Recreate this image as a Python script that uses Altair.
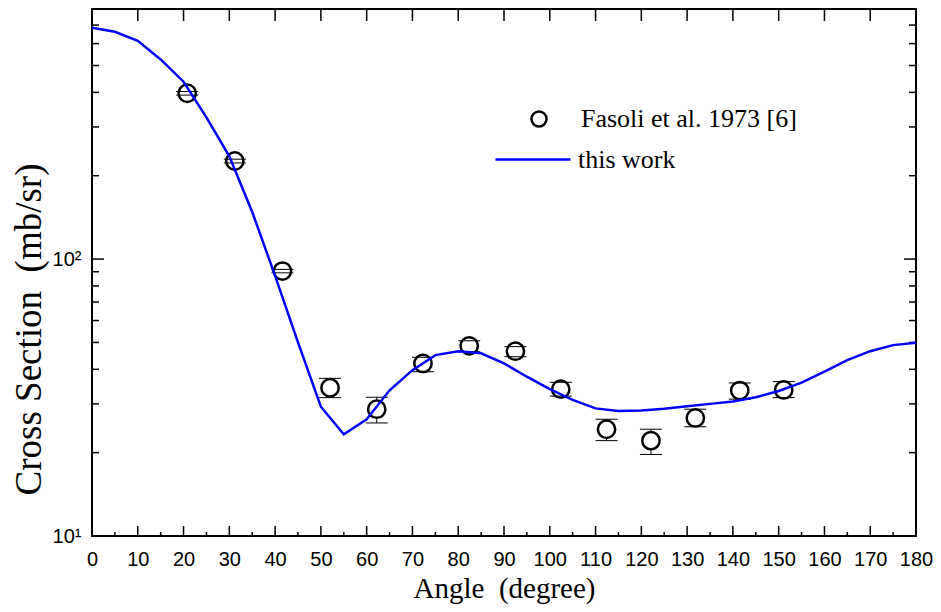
import altair as alt
import pandas as pd

# ---- data ----
exp_angle = [20.8, 31.2, 41.6, 52.0, 62.2, 72.3, 82.4, 92.5, 102.4, 112.4, 122.1, 131.8, 141.5, 151.1]
exp_cs = [397, 226, 90.5, 34.3, 28.7, 42.0, 48.6, 46.5, 33.9, 24.3, 22.1, 26.7, 33.5, 33.7]
exp_lo = [391, 222.5, 89.2, 31.6, 25.6, 39.2, 46.3, 44.4, 32.0, 22.1, 19.7, 24.8, 31.2, 31.6]
exp_hi = [403, 229.5, 91.8, 37.1, 31.7, 44.2, 50.7, 48.3, 35.9, 26.4, 24.3, 28.7, 35.7, 36.1]

calc_angle = [0, 5, 10, 15, 20, 25, 30, 35, 40, 45, 50, 55, 60, 65, 70, 75, 80, 85, 90,
              95, 100, 105, 110, 115, 120, 125, 130, 135, 140, 145, 150, 155, 160, 165,
              170, 175, 180]
calc_cs = [684, 662, 614, 526, 437, 325, 235, 148, 87, 50, 29.3, 23.3, 26.4, 33.6, 39.7,
           45.0, 46.5, 45.7, 42.0, 37.6, 33.9, 31.0, 28.9, 28.3, 28.4, 28.8, 29.4, 30.0,
           30.6, 31.7, 33.4, 35.8, 39.2, 43.2, 46.5, 48.9, 49.9]

x_major = [0, 10, 20, 30, 40, 50, 60, 70, 80, 90, 100, 110, 120, 130, 140, 150, 160, 170, 180]
x_minor = [5, 15, 25, 35, 45, 55, 65, 75, 85, 95, 105, 115, 125, 135, 145, 155, 165, 175]
x_top = [10, 20, 30, 40, 50, 60, 70, 80, 90, 100, 110, 120, 130, 140, 150, 160, 170]
y_major = [100]
y_minor = [20, 30, 40, 50, 60, 70, 80, 90, 200, 300, 400, 500, 600, 700]
y_labels = [10, 100]

exp_label = "Fasoli et al. 1973 [6]"
calc_label = "this work"
x_title = "Angle\u00a0\u00a0(degree)"
y_title = "Cross Section\u00a0\u00a0(mb/sr)"

W, H = 824, 527

exp_df = pd.DataFrame({"angle": exp_angle, "cs": exp_cs, "lo": exp_lo, "hi": exp_hi,
                       "lab": [exp_label] * len(exp_angle)})
calc_df = pd.DataFrame({"angle": calc_angle, "cs": calc_cs, "lab": [calc_label] * len(calc_angle)})

xscale = alt.Scale(domain=[0, 180], nice=False, zero=False)
yscale = alt.Scale(type="log", domain=[10, 800], nice=False)

xaxis = alt.Axis(values=x_major, labelFont="Liberation Sans", labelFontSize=20, labelColor="black",
                 labelPadding=13, labelFlush=False, labelOverlap=False, ticks=False, domain=False,
                 grid=False, title=x_title, titleFont="Liberation Serif", titleFontSize=29,
                 titleFontWeight="normal", titleColor="black", titleY=61, titleBaseline="alphabetic")
yaxis = alt.Axis(values=y_labels, labelExpr="datum.value == 100 ? '10²' : '10¹'",
                 labelFont="Liberation Sans", labelFontSize=20, labelColor="black", labelPadding=11,
                 labelOverlap=False, ticks=False, domain=False, grid=False,
                 title=y_title, titleFont="Liberation Serif", titleFontSize=37,
                 titleFontWeight="normal", titleColor="black", titleX=-52, titleY=320,
                 titleAngle=270, titleBaseline="alphabetic")


def X(f):
    return alt.X(f, type="quantitative", scale=xscale, axis=xaxis)


def Y(f):
    return alt.Y(f, type="quantitative", scale=yscale, axis=yaxis)


def xticks(vals, y0, y1):
    return alt.Chart(pd.DataFrame({"t": vals})).mark_rule(color="black", strokeWidth=1.5).encode(
        x=X("t"), y=alt.value(y0), y2=alt.value(y1))


def yticks(vals, x0, x1):
    return alt.Chart(pd.DataFrame({"v": vals})).mark_rule(color="black", strokeWidth=1.5).encode(
        y=Y("v"), x=alt.value(x0), x2=alt.value(x1))


ticks = [
    xticks(x_major, H, H - 10),
    xticks(x_minor, H, H - 4),
    xticks(x_top, 0, 12),
    yticks(y_major, 0, 12),
    yticks(y_minor, 0, 7),
    yticks(y_major, W, W - 12),
    yticks(y_minor, W, W - 7),
]

err = alt.Chart(exp_df).mark_rule(color="black", strokeWidth=1).encode(
    x=X("angle"), y=Y("lo"), y2="hi")
caps_lo = alt.Chart(exp_df).mark_tick(orient="horizontal", color="black", thickness=1, size=22,
                                      opacity=1).encode(x=X("angle"), y=Y("lo"))
caps_hi = alt.Chart(exp_df).mark_tick(orient="horizontal", color="black", thickness=1, size=22,
                                      opacity=1).encode(x=X("angle"), y=Y("hi"))

points = alt.Chart(exp_df).mark_point(shape="circle", filled=False, fill="white", strokeWidth=2.5,
                                      size=300, opacity=1, fillOpacity=1).encode(
    x=X("angle"), y=Y("cs"),
    color=alt.Color("lab:N", scale=alt.Scale(range=["black"]),
                    legend=alt.Legend(orient="none", legendX=434, legendY=97, title=None,
                                      padding=0, labelFont="Liberation Serif", labelFontSize=26,
                                      labelColor="black", labelOffset=29, labelLimit=400,
                                      symbolType="circle", symbolSize=225, symbolStrokeWidth=2.5,
                                      symbolStrokeColor="black", symbolFillColor="white",
                                      symbolOpacity=1)))

line = alt.Chart(calc_df).mark_line(strokeWidth=2.5).encode(
    x=X("angle"), y=Y("cs"),
    color=alt.Color("lab:N", scale=alt.Scale(range=["#0000ff"]),
                    legend=alt.Legend(orient="none", legendX=402, legendY=111.5, title=None,
                                      padding=0, labelFont="Liberation Serif", labelFontSize=26,
                                      labelColor="black", labelOffset=6, labelLimit=400,
                                      symbolType="stroke", symbolSize=5625, symbolStrokeWidth=2.5)))

chart = alt.layer(*ticks, err, points, caps_lo, caps_hi, line).properties(
    width=W, height=H,
    autosize=alt.AutoSizeParams(type="none"),
    padding={"left": 84, "top": 1, "right": 17, "bottom": 68},
    background="white",
).resolve_scale(color="independent").configure_view(
    stroke="black", strokeWidth=2
)

chart.save("out.html", embed_options={"renderer": "svg", "actions": False})
